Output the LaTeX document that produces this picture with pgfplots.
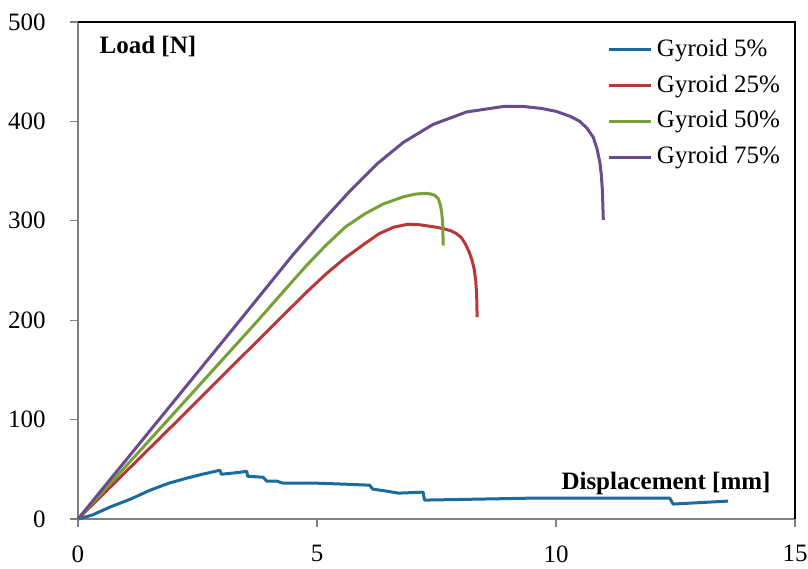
\documentclass[border=0pt]{standalone}
\usepackage{fontspec}
\setmainfont{Liberation Serif}
\usepackage{pgfplots}
\pgfplotsset{compat=1.18}
\definecolor{gblue}{HTML}{1B6B9E}
\definecolor{gred}{HTML}{B8383A}
\definecolor{ggreen}{HTML}{77A136}
\definecolor{gpurple}{HTML}{6A4C8C}
\definecolor{axgray}{HTML}{7F7F7F}

\begin{document}
\fontsize{12.5}{14}\selectfont
\begin{tikzpicture}
\begin{axis}[
  scale only axis,
  width=358.5pt,
  height=248.5pt,
  xmin=0,xmax=15,
  ymin=0,ymax=500,
  xtick={0,5,10,15},
  ytick={0,100,200,300,400,500},
  axis lines=left,
  axis line style={-,draw=axgray,line width=0.6pt},
  tick style={draw=axgray,line width=0.6pt},
  tick align=outside,
  major tick length=4pt,
  ticklabel style={font=\fontsize{12.5}{14}\selectfont,inner sep=0pt},
  /pgf/number format/assume math mode=true,
  xticklabel style={yshift=-9pt},
  yticklabel style={xshift=-12pt},
  clip=false,
  legend cell align=left,
  legend style={at={(0.985,0.975)},anchor=north east,draw=none,fill=none,
    font=\fontsize{12.5}{14}\selectfont,row sep=3.4pt,inner sep=0pt},
  legend image code/.code={\draw[#1,line width=1.5pt] (0pt,0pt) -- (21pt,0pt);},
  every axis plot/.append style={line width=1.5pt,line join=round},
]
\addplot[gblue] coordinates {
(0,0) (0.3,4) (0.67,12) (1.1,20) (1.51,29) (1.9,36) (2.27,41) (2.6,45) (2.97,49)
(3.0,45) (3.2,46) (3.39,47) (3.53,48) (3.55,43) (3.87,42) (3.95,38) (4.16,38)
(4.29,36) (5.0,36) (5.6,35) (6.1,34) (6.17,30) (6.46,28) (6.7,26) (7.22,27)
(7.25,19) (8.4,20) (9.52,21) (11.0,21) (12.38,21) (12.45,15) (13.6,18)};
\addlegendentry{Gyroid 5\%}
\addplot[gred] coordinates {
(0,0) (2,95) (4.19,200) (4.8,229) (5.2,247) (5.6,263) (6.0,277) (6.3,287) (6.6,293.5)
(6.9,296.5) (7.15,296) (7.5,293.5) (7.65,292) (7.8,290) (7.92,287) (8.02,283)
(8.1,277) (8.18,269) (8.24,261) (8.29,251) (8.32,240) (8.34,226) (8.35,203)};
\addlegendentry{Gyroid 25\%}
\addplot[ggreen] coordinates {
(0,0) (2,106) (3.77,200) (4.3,229) (4.78,255) (5.2,276) (5.6,294) (6.0,307) (6.39,317)
(6.8,324) (7.05,326.8) (7.25,327.6) (7.38,327) (7.47,325.5) (7.54,322) (7.58,316)
(7.61,308) (7.63,297) (7.64,275)};
\addlegendentry{Gyroid 50\%}
\addplot[gpurple] coordinates {
(0,0) (2,118) (3.39,200) (4.5,266) (5.1,299) (5.69,330) (6.25,357) (6.81,379)
(7.43,397) (8.13,409.5) (8.9,415) (9.32,415) (9.7,413) (10.01,410) (10.3,405) (10.5,400)
(10.65,393) (10.78,384) (10.86,372) (10.92,358) (10.95,345) (10.97,331) (10.99,301)};
\addlegendentry{Gyroid 75\%}
\draw[black,line width=1pt] (rel axis cs:0,1) -- (rel axis cs:1,1) -- (rel axis cs:1,0);
\node[anchor=west,font=\bfseries\fontsize{12.5}{14}\selectfont] at (rel axis cs:0.018,0.95) {Load [N]};
\node[anchor=east,font=\bfseries\fontsize{12.5}{14}\selectfont] at (rel axis cs:0.978,0.072) {Displacement [mm]};
\coordinate (bl) at (rel axis cs:0,0);
\coordinate (tr) at (rel axis cs:1,1);
\end{axis}
\path ([xshift=-39pt,yshift=-25pt]bl) rectangle ([xshift=6.5pt,yshift=11pt]tr);
\end{tikzpicture}
\end{document}
